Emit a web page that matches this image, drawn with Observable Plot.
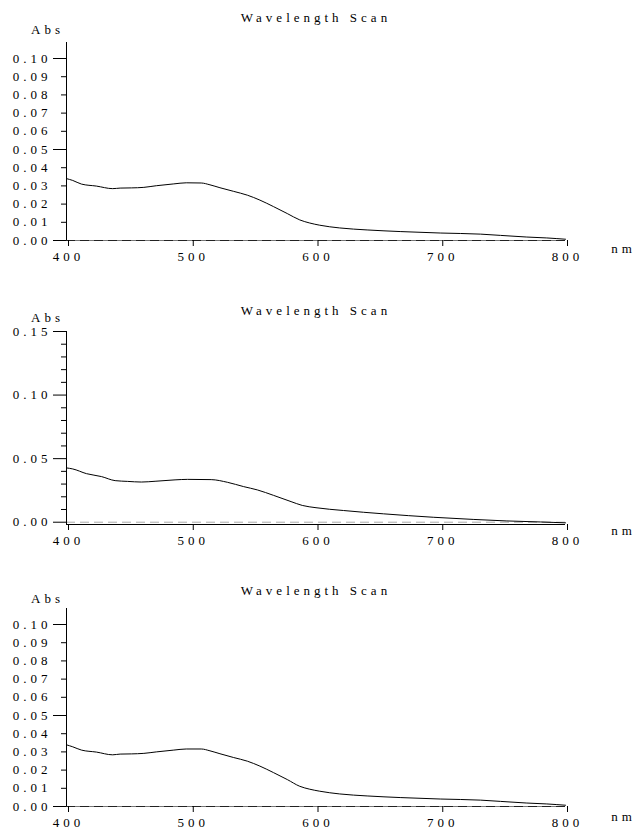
<!DOCTYPE html>
<html><head><meta charset="utf-8">
<script src="https://cdn.jsdelivr.net/npm/d3@7"></script>
<script src="https://cdn.jsdelivr.net/npm/@observablehq/plot@0.6"></script>
<style>
html,body{margin:0;padding:0;background:#fff;}
#wrap{position:relative;width:637px;height:832px;overflow:hidden;background:#fff;}
#wrap svg{position:absolute;left:0;}
#wrap svg, #wrap svg text{font-family:"Liberation Serif","Times New Roman",serif !important;}
</style></head><body><div id="wrap"></div>
<script>
// ---- data ----
const wavelength1 = [400, 405, 412, 424, 437, 443, 452, 462, 472, 486, 496, 508, 515, 523, 534, 545, 555, 566, 577, 587, 595, 603, 619, 641, 668, 700, 732, 748, 769, 785, 800];
const absorbance1 = [0.0340, 0.0330, 0.0310, 0.0299, 0.0285, 0.0288, 0.0289, 0.0292, 0.0301, 0.0311, 0.0317, 0.0316, 0.0306, 0.0290, 0.0270, 0.0249, 0.0222, 0.0186, 0.0148, 0.0113, 0.0096, 0.0084, 0.0069, 0.0058, 0.0049, 0.0041, 0.0035, 0.0028, 0.0019, 0.0014, 0.0007];

const wavelength2 = [400, 405, 416, 428, 439, 449, 460, 471, 487, 497, 516, 529, 542, 553, 566, 580, 589, 600, 622, 654, 694, 726, 753, 780, 800];
const absorbance2 = [0.0427, 0.0419, 0.0382, 0.0359, 0.0327, 0.0321, 0.0316, 0.0322, 0.0333, 0.0337, 0.0335, 0.0314, 0.0280, 0.0254, 0.0211, 0.0162, 0.0132, 0.0114, 0.0092, 0.0066, 0.0039, 0.0022, 0.0010, 0.0002, -0.0005];

const wavelength3 = [400, 405, 412, 424, 437, 443, 452, 462, 472, 486, 496, 508, 515, 523, 534, 545, 555, 566, 577, 587, 595, 603, 619, 641, 668, 700, 732, 748, 769, 785, 800];
const absorbance3 = [0.0339, 0.0328, 0.0310, 0.0299, 0.0284, 0.0288, 0.0289, 0.0292, 0.0300, 0.0310, 0.0316, 0.0316, 0.0306, 0.0290, 0.0269, 0.0249, 0.0222, 0.0186, 0.0148, 0.0111, 0.0095, 0.0084, 0.0069, 0.0058, 0.0049, 0.0041, 0.0035, 0.0028, 0.0019, 0.0014, 0.0007];

const xTicks = [400, 500, 600, 700, 800];
const yLabelTicksA = [0.00, 0.01, 0.02, 0.03, 0.04, 0.05, 0.06, 0.07, 0.08, 0.09, 0.10];
const yMinorTicksA = [0.01, 0.02, 0.03, 0.04, 0.06, 0.07, 0.08, 0.09];
const yMajorTicksA = [0.00, 0.05, 0.10];
const yLabelTicksB = [0.00, 0.05, 0.10, 0.15];
const yMinorTicksB = [0.01, 0.02, 0.03, 0.04, 0.06, 0.07, 0.08, 0.09, 0.11, 0.12, 0.13, 0.14];
const yMajorTicksB = [0.00, 0.05, 0.10, 0.15];
const titleText = "Wavelength Scan";
const yName = "Abs";
const xName = "nm";

const LS = 4;
const FONT = "Liberation Serif, Times New Roman, serif";
const fmt = d3.format(".2f");

function panel(o) {
  const data = o.wl.map((w, i) => ({w, a: o.ab[i]}));
  const svg = Plot.plot({
    width: 637,
    height: o.height,
    marginLeft: 66,
    marginRight: 72,
    marginTop: o.marginTop,
    marginBottom: o.marginBottom,
    style: `font-family: 'Liberation Serif', 'Times New Roman', serif; font-size: 13px; letter-spacing: ${LS}px; color: #000; background: #fff; overflow: visible;`,
    x: {domain: [400, 800]},
    y: {domain: o.yDomain},
    marks: [
      Plot.ruleY([o.yDomain[0]], {stroke: o.dashOnAxis ? "#777" : "#000", strokeWidth: 1}),
      Plot.ruleY([0], {stroke: o.dashOnAxis ? "#222" : "#aaa", strokeDasharray: "9,5", strokeWidth: 1}),
      Plot.ruleX([400], {stroke: "#000"}),
      Plot.axisX(xTicks, {tickSize: 6, tickPadding: 5, dx: LS / 2, tickFormat: d => String(d), label: null, fontFamily: FONT}),
      Plot.axisY(o.labelTicks, {tickSize: 0, tickPadding: 19 - LS, tickFormat: fmt, label: null, fontFamily: FONT}),
      Plot.axisY(o.minorTicks, {tickSize: 5, tickFormat: () => "", label: null}),
      Plot.axisY(o.majorTicks, {tickSize: 13, tickFormat: () => "", label: null}),
      Plot.line(data, {x: "w", y: "a", stroke: "#000", strokeWidth: 1, curve: "monotone-x"}),
      Plot.text([titleText], {text: d => d, frameAnchor: "top", lineAnchor: "middle", textAnchor: "middle", dy: o.titleDy, fontFamily: FONT}),
      Plot.text([yName], {text: d => d, frameAnchor: "top-left", lineAnchor: "middle", textAnchor: "middle", dx: -19, dy: o.absDy, fontFamily: FONT}),
      Plot.text([xName], {text: d => d, frameAnchor: "bottom-right", lineAnchor: "middle", textAnchor: "middle", dx: 58, dy: o.nmDy, fontFamily: FONT})
    ]
  });
  svg.style.top = o.top + "px";
  document.getElementById("wrap").appendChild(svg);
}

panel({wl: wavelength1, ab: absorbance1, top: 0, height: 280, marginTop: 42, marginBottom: 40,
  yDomain: [0, 0.1088], labelTicks: yLabelTicksA, minorTicks: yMinorTicksA, majorTicks: yMajorTicksA,
  titleDy: -25, absDy: -13, nmDy: 8, dashOnAxis: true});
panel({wl: wavelength2, ab: absorbance2, top: 284, height: 280, marginTop: 47, marginBottom: 40,
  yDomain: [-0.0018, 0.15], labelTicks: yLabelTicksB, minorTicks: yMinorTicksB, majorTicks: yMajorTicksB,
  titleDy: -21, absDy: -14, nmDy: 6, dashOnAxis: false});
panel({wl: wavelength3, ab: absorbance3, top: 566, height: 266, marginTop: 42, marginBottom: 26,
  yDomain: [0, 0.1088], labelTicks: yLabelTicksA, minorTicks: yMinorTicksA, majorTicks: yMajorTicksA,
  titleDy: -18, absDy: -10, nmDy: 10, dashOnAxis: true});
</script></body></html>
